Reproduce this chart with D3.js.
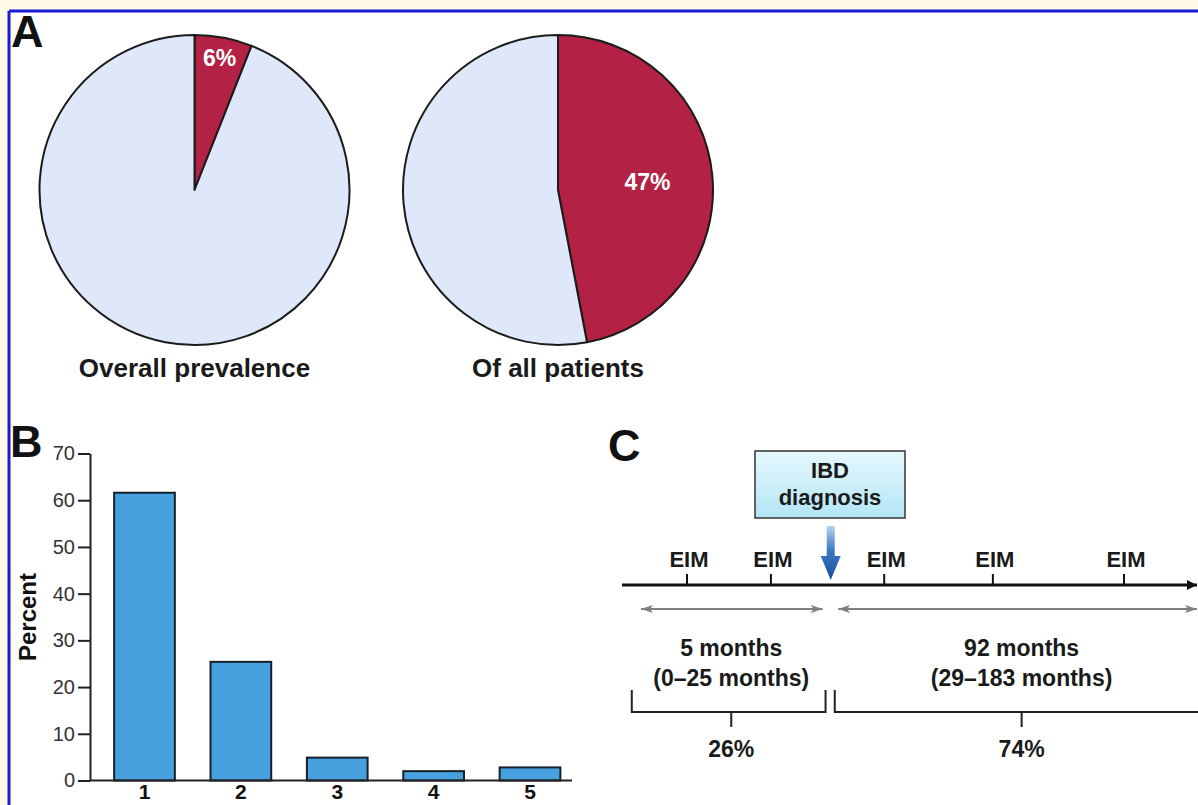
<!DOCTYPE html>
<html>
<head>
<meta charset="utf-8">
<script src="https://cdn.jsdelivr.net/npm/d3@7"></script>
<style>
  html, body { margin: 0; padding: 0; background: #fffaea; }
  svg { display: block; font-family: "Liberation Sans", Arial, Helvetica, sans-serif; }
</style>
</head>
<body>
<svg id="fig" width="1198" height="805"></svg>
<script>
// ---- Panel A: prevalence pies (affected share first, drawn clockwise from 12 o'clock)
const pieTitles = ["Overall prevalence", "Of all patients"];
const pieAffected = [6, 47];
const pieLabels = ["6%", "47%"];

// ---- Panel B: number of manifestations per patient
const barCategories = ["1", "2", "3", "4", "5"];
const barValues = [61.6, 25.4, 4.9, 2.0, 2.8];
const yTicks = [0, 10, 20, 30, 40, 50, 60, 70];

// ---- Panel C: timeline (arbitrary time units, 0–100 along the axis)
const eimTimes = [11.3, 25.9, 45.6, 64.5, 87.3];
const diagnosisTime = 36.3;
const periodLabels = [["5 months", "(0\u201325 months)"], ["92 months", "(29\u2013183 months)"]];
const periodShares = ["26%", "74%"];
const periodArrowSpans = [[3.3, 34.9], [37.6, 100]];
const periodBracketSpans = [[1.7, 35.4], [37.0, 103]];
const periodCenters = [19.0, 69.5];

const svg = d3.select("#fig");
const W = 1198, H = 805;

// frame
svg.append("rect").attr("width", W).attr("height", H).attr("fill", "#fffaea");
svg.append("rect").attr("x", 9).attr("y", 11).attr("width", W - 9).attr("height", H - 11).attr("fill", "#ffffff");
svg.append("line").attr("x1", 9).attr("x2", W).attr("y1", 11).attr("y2", 11)
  .attr("stroke", "#1a1ad6").attr("stroke-width", 3);
svg.append("line").attr("x1", 9).attr("x2", 9).attr("y1", 11).attr("y2", H)
  .attr("stroke", "#1a1ad6").attr("stroke-width", 3);

const defs = svg.append("defs");

// panel letters
function panelLetter(txt, x, y) {
  svg.append("text").attr("x", x).attr("y", y).text(txt)
    .attr("font-size", 45).attr("font-weight", "bold").attr("fill", "#111");
}
panelLetter("A", 11, 47);
panelLetter("B", 10, 457);
panelLetter("C", 608, 461);

// ---------------- Panel A ----------------
const pieR = 155;
const pieCenters = [[194.5, 190], [558, 190]];
const labelRadius = [0.865, 0.58];
const pieColors = ["#b32144", "#dfe8fa"];
const pie = d3.pie().sort(null).value(d => d);
const arc = d3.arc().innerRadius(0).outerRadius(pieR);

pieAffected.forEach((v, i) => {
  const g = svg.append("g").attr("transform", `translate(${pieCenters[i][0]},${pieCenters[i][1]})`);
  const arcs = pie([v, 100 - v]);
  g.selectAll("path").data(arcs).join("path")
    .attr("d", arc)
    .attr("fill", (d, j) => pieColors[j])
    .attr("stroke", "#1b1b1b").attr("stroke-width", 2).attr("stroke-linejoin", "round");
  const la = d3.arc().innerRadius(pieR * labelRadius[i]).outerRadius(pieR * labelRadius[i]);
  const c = la.centroid(arcs[0]);
  g.append("text").attr("x", c[0]).attr("y", c[1]).text(pieLabels[i])
    .attr("text-anchor", "middle").attr("dominant-baseline", "central")
    .attr("font-size", 23).attr("font-weight", "bold").attr("fill", "#ffffff");
  svg.append("text").attr("x", pieCenters[i][0]).attr("y", 377).text(pieTitles[i])
    .attr("text-anchor", "middle").attr("font-size", 26).attr("font-weight", "bold").attr("fill", "#1a1a1a");
});

// ---------------- Panel B ----------------
const x = d3.scaleBand().domain(barCategories).range([96.3, 578.2])
  .paddingInner(0.37).paddingOuter(0.185);
const y = d3.scaleLinear().domain([0, 70]).range([780.5, 453.5]);

const bars = svg.append("g");
bars.selectAll("rect").data(barValues).join("rect")
  .attr("x", (d, i) => x(barCategories[i]))
  .attr("y", d => y(d))
  .attr("width", x.bandwidth())
  .attr("height", d => y(0) - y(d))
  .attr("fill", "#48a1df").attr("stroke", "#15202b").attr("stroke-width", 2);

const yAxis = svg.append("g").attr("transform", "translate(90,0)")
  .call(d3.axisLeft(y).tickValues(yTicks).tickSize(12).tickSizeOuter(0).tickPadding(3));
yAxis.select(".domain").attr("stroke", "#222").attr("stroke-width", 2);
yAxis.selectAll(".tick line").attr("stroke", "#222").attr("stroke-width", 2);
yAxis.selectAll(".tick text").attr("font-size", 20).attr("fill", "#333")
  .attr("font-family", "'Liberation Sans', Arial, sans-serif");

// baseline
svg.append("line").attr("x1", 90).attr("x2", 572).attr("y1", y(0)).attr("y2", y(0))
  .attr("stroke", "#222").attr("stroke-width", 2);

svg.append("g").selectAll("text").data(barCategories).join("text")
  .attr("x", d => x(d) + x.bandwidth() / 2).attr("y", 799)
  .attr("text-anchor", "middle").attr("font-size", 21).attr("font-weight", "bold").attr("fill", "#111")
  .text(d => d);

svg.append("text").attr("transform", "translate(36,617) rotate(-90)")
  .attr("text-anchor", "middle").attr("font-size", 24).attr("font-weight", "bold").attr("fill", "#111")
  .text("Percent");

// ---------------- Panel C ----------------
const t = d3.scaleLinear().domain([0, 100]).range([622, 1197]);
const axisY = 585;

defs.append("marker").attr("id", "blackHead").attr("viewBox", "0 0 10 10")
  .attr("refX", 10).attr("refY", 5).attr("markerWidth", 10).attr("markerHeight", 10)
  .attr("markerUnits", "userSpaceOnUse").attr("orient", "auto")
  .append("path").attr("d", "M0,0 L10,5 L0,10 z").attr("fill", "#111");

defs.append("marker").attr("id", "grayHead").attr("viewBox", "0 0 12 10")
  .attr("refX", 12).attr("refY", 5).attr("markerWidth", 12).attr("markerHeight", 10)
  .attr("markerUnits", "userSpaceOnUse").attr("orient", "auto-start-reverse")
  .append("path").attr("d", "M0,1 L12,5 L0,9 L3,5 z").attr("fill", "#808080");

// main time axis
svg.append("line").attr("x1", t(0)).attr("x2", t(100)).attr("y1", axisY).attr("y2", axisY)
  .attr("stroke", "#111").attr("stroke-width", 3).attr("marker-end", "url(#blackHead)");

// EIM events
const ev = svg.append("g");
ev.selectAll("line").data(eimTimes).join("line")
  .attr("x1", d => t(d)).attr("x2", d => t(d)).attr("y1", axisY - 11).attr("y2", axisY)
  .attr("stroke", "#111").attr("stroke-width", 2);
ev.selectAll("text").data(eimTimes).join("text")
  .attr("x", d => t(d) + 2).attr("y", 567).attr("text-anchor", "middle")
  .attr("font-size", 22).attr("font-weight", "bold").attr("fill", "#1a1a1a").text("EIM");

// IBD diagnosis box
const boxGrad = defs.append("linearGradient").attr("id", "boxGrad")
  .attr("x1", 0).attr("y1", 0).attr("x2", 0).attr("y2", 1);
boxGrad.append("stop").attr("offset", "0%").attr("stop-color", "#e6f8fd");
boxGrad.append("stop").attr("offset", "100%").attr("stop-color", "#b4e5f5");
svg.append("rect").attr("x", 755).attr("y", 451).attr("width", 150).attr("height", 67)
  .attr("fill", "url(#boxGrad)").attr("stroke", "#333").attr("stroke-width", 1.5);
svg.append("text").attr("x", 830).attr("y", 478).attr("text-anchor", "middle")
  .attr("font-size", 22).attr("font-weight", "bold").attr("fill", "#1a1a1a").text("IBD");
svg.append("text").attr("x", 830).attr("y", 505).attr("text-anchor", "middle")
  .attr("font-size", 22).attr("font-weight", "bold").attr("fill", "#1a1a1a").text("diagnosis");

// blue arrow at diagnosis
const arrowGrad = defs.append("linearGradient").attr("id", "arrowGrad")
  .attr("x1", 0).attr("y1", 0).attr("x2", 0).attr("y2", 1);
arrowGrad.append("stop").attr("offset", "0%").attr("stop-color", "#b7d3f0");
arrowGrad.append("stop").attr("offset", "45%").attr("stop-color", "#3d79c4");
arrowGrad.append("stop").attr("offset", "100%").attr("stop-color", "#1a4c9c");
const ax = t(diagnosisTime);
svg.append("path")
  .attr("d", `M${ax - 4},526 L${ax + 4},526 L${ax + 4},556 L${ax + 10},556 L${ax},580 L${ax - 10},556 L${ax - 4},556 Z`)
  .attr("fill", "url(#arrowGrad)");

// period spans
const periods = svg.append("g");
periodArrowSpans.forEach(s => {
  periods.append("line").attr("x1", t(s[0])).attr("x2", t(s[1])).attr("y1", 609).attr("y2", 609)
    .attr("stroke", "#808080").attr("stroke-width", 2)
    .attr("marker-start", "url(#grayHead)").attr("marker-end", "url(#grayHead)");
});
periodLabels.forEach((lines, i) => {
  lines.forEach((s, k) => {
    periods.append("text").attr("x", t(periodCenters[i])).attr("y", 656 + k * 30)
      .attr("text-anchor", "middle").attr("font-size", 23).attr("font-weight", "bold")
      .attr("fill", "#1a1a1a").text(s);
  });
});
periodBracketSpans.forEach((s, i) => {
  periods.append("path")
    .attr("d", `M${t(s[0])},690 L${t(s[0])},712 L${t(s[1])},712` + (s[1] <= 100 ? ` L${t(s[1])},690` : ""))
    .attr("fill", "none").attr("stroke", "#222").attr("stroke-width", 2);
  periods.append("line").attr("x1", t(periodCenters[i])).attr("x2", t(periodCenters[i]))
    .attr("y1", 712).attr("y2", 727).attr("stroke", "#222").attr("stroke-width", 2);
  periods.append("text").attr("x", t(periodCenters[i])).attr("y", 757)
    .attr("text-anchor", "middle").attr("font-size", 23).attr("font-weight", "bold")
    .attr("fill", "#1a1a1a").text(periodShares[i]);
});
</script>
</body>
</html>
